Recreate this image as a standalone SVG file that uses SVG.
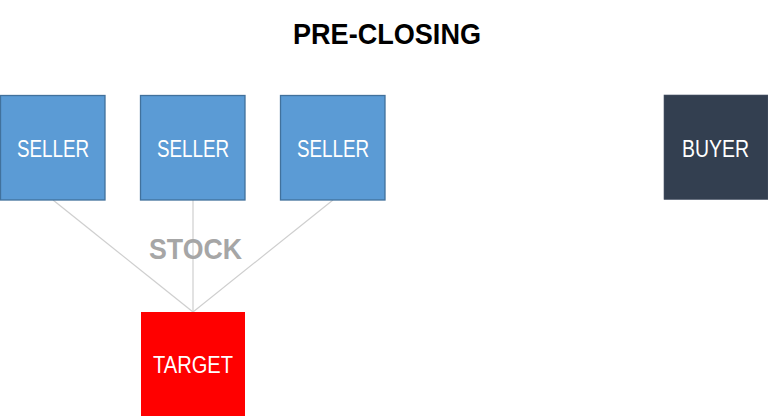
<svg xmlns="http://www.w3.org/2000/svg" width="768" height="416" viewBox="0 0 768 416">
<style>
.lbl{font-family:"Liberation Sans",Arial,sans-serif;font-size:23px;fill:#ffffff;text-anchor:middle}
.seller{fill:#5b9bd5;stroke:#41719c;stroke-width:1.3}
.conn{stroke:#cfcfcf;stroke-width:1.2;fill:none}
</style>
<rect width="768" height="416" fill="#ffffff"/>
<text x="387" y="44" font-family="'Liberation Sans',Arial,sans-serif" font-size="30" font-weight="bold" text-anchor="middle" fill="#000000" textLength="188" lengthAdjust="spacingAndGlyphs">PRE-CLOSING</text>
<g id="connectors">
<line class="conn" x1="53" y1="200" x2="193" y2="312"/>
<line class="conn" x1="193" y1="200" x2="193" y2="312"/>
<line class="conn" x1="333" y1="200" x2="193" y2="312"/>
</g>
<text x="195.5" y="259" font-family="'Liberation Sans',Arial,sans-serif" font-size="30" font-weight="bold" text-anchor="middle" fill="#a6a6a6" textLength="93" lengthAdjust="spacingAndGlyphs">STOCK</text>
<g id="seller1"><rect class="seller" x="0.5" y="95.5" width="104.5" height="104.5"/><text class="lbl" x="53" y="157" textLength="72" lengthAdjust="spacingAndGlyphs">SELLER</text></g>
<g id="seller2"><rect class="seller" x="140.5" y="95.5" width="104.5" height="104.5"/><text class="lbl" x="193" y="157" textLength="72" lengthAdjust="spacingAndGlyphs">SELLER</text></g>
<g id="seller3"><rect class="seller" x="280.5" y="95.5" width="104.5" height="104.5"/><text class="lbl" x="333" y="157" textLength="72" lengthAdjust="spacingAndGlyphs">SELLER</text></g>
<g id="buyer"><rect x="664" y="95" width="104" height="104.5" fill="#333f50" stroke="#4a5568" stroke-width="0.6"/><text class="lbl" x="715.5" y="157" textLength="67" lengthAdjust="spacingAndGlyphs">BUYER</text></g>
<g id="target"><rect x="141" y="312" width="104" height="104" fill="#ff0000"/><text class="lbl" x="193" y="373" textLength="80" lengthAdjust="spacingAndGlyphs">TARGET</text></g>
</svg>
